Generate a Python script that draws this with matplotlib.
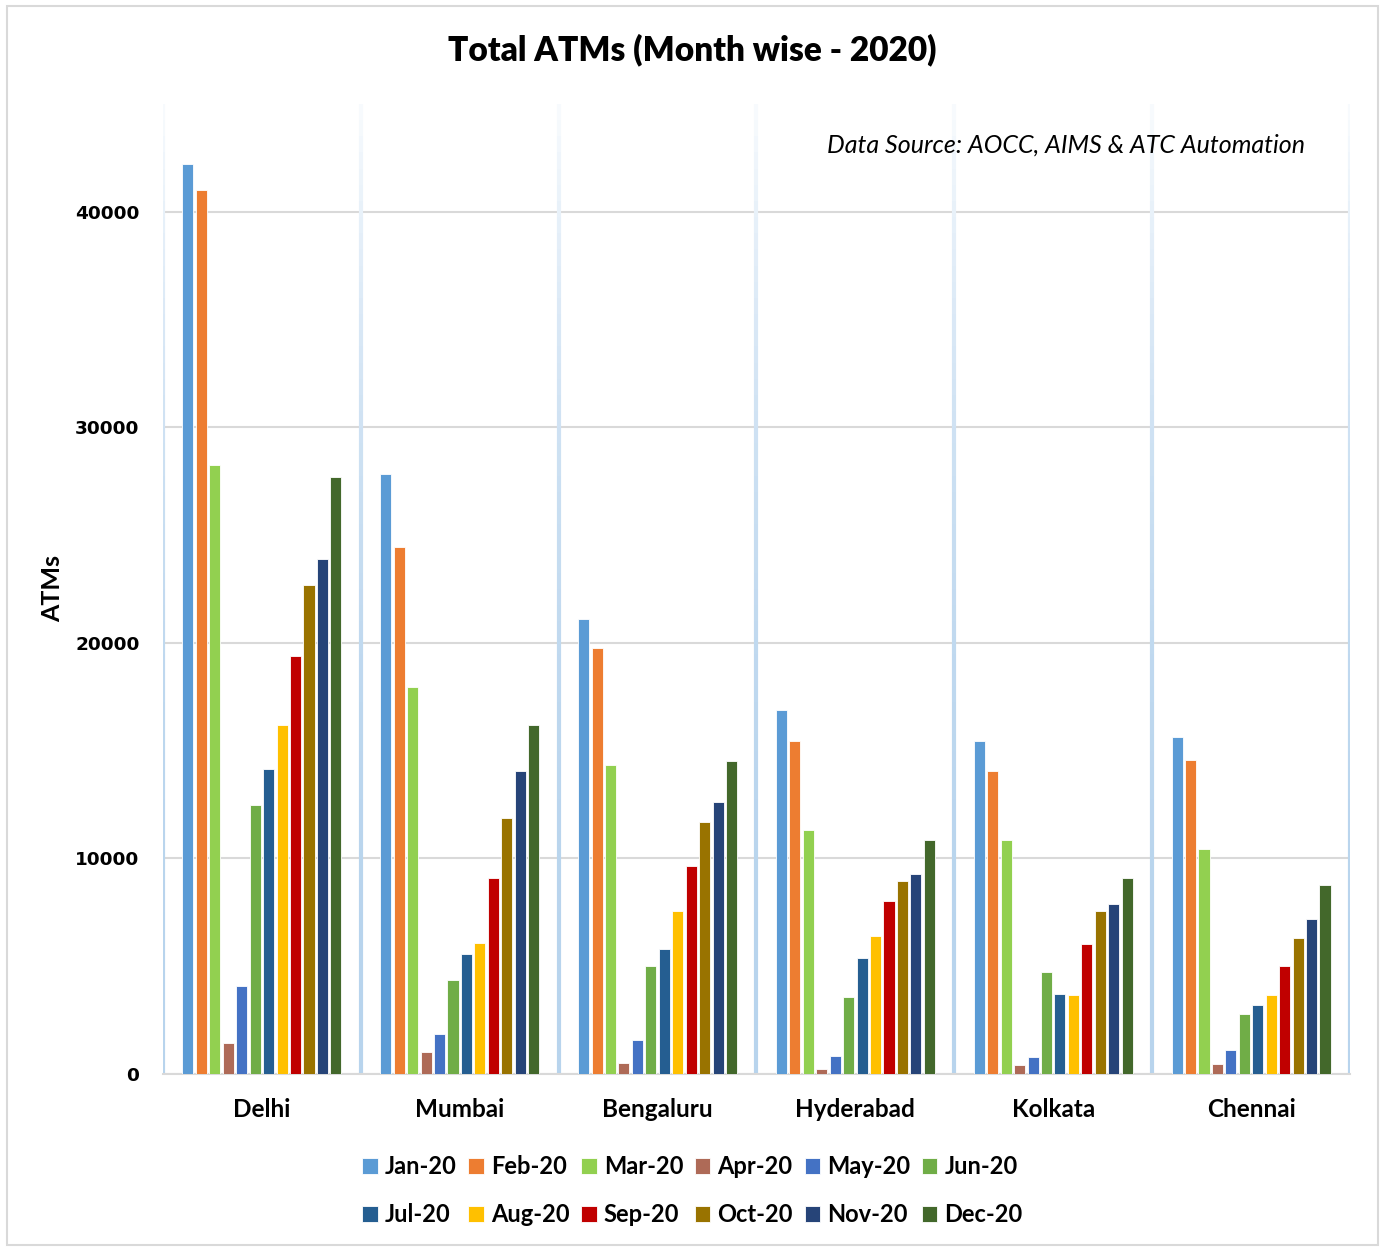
import numpy as np
import matplotlib
matplotlib.use("Agg")
import matplotlib.pyplot as plt
from matplotlib.collections import LineCollection
from matplotlib.colors import LinearSegmentedColormap
from matplotlib.patches import Rectangle

# data
cities = ["Delhi", "Mumbai", "Bengaluru", "Hyderabad", "Kolkata", "Chennai"]
months = ["Jan-20", "Feb-20", "Mar-20", "Apr-20", "May-20", "Jun-20",
          "Jul-20", "Aug-20", "Sep-20", "Oct-20", "Nov-20", "Dec-20"]

delhi = [42200, 41000, 28250, 1450, 4080, 12470, 14150, 16180, 19380, 22700, 23900, 27680]
mumbai = [27850, 24450, 17950, 1000, 1850, 4370, 5580, 6070, 9080, 11870, 14060, 16180]
bengaluru = [21100, 19750, 14320, 500, 1570, 5000, 5790, 7560, 9640, 11670, 12600, 14520]
hyderabad = [16900, 15470, 11330, 230, 850, 3580, 5380, 6400, 8030, 8950, 9280, 10850]
kolkata = [15470, 14060, 10850, 420, 790, 4710, 3710, 3660, 6040, 7560, 7910, 9080]
chennai = [15650, 14550, 10430, 460, 1130, 2780, 3200, 3660, 5000, 6320, 7180, 8760]

colors = ["#5B9BD5", "#ED7D31", "#92D050", "#AE6A57", "#4472C4", "#70AD47",
          "#255E91", "#FFC000", "#C00000", "#997300", "#264478", "#43682B"]

values = np.array([delhi, mumbai, bengaluru, hyderabad, kolkata, chennai])  # city x month

fig = plt.figure(figsize=(13.85, 12.47), dpi=100)
ax = fig.add_axes([0.1177, 0.1387, 0.857, 0.778])

x = np.arange(len(cities))
pitch = 0.068
width = 0.056
bars = []
for m in range(len(months)):
    off = (m - 5.5) * pitch
    b = ax.bar(x + off, values[:, m], width, color=colors[m], edgecolor="white",
               linewidth=0.6, zorder=3, label=months[m])
    bars.append(b)

ax.set_xlim(-0.5, 5.5)
ax.set_ylim(0, 45000)

# gradient separators between cities (blue at bottom, fading up)
cmap = LinearSegmentedColormap.from_list("sep", ["#B8D4ED", "#F7FAFD"])
n = 60
ys = np.linspace(0, 45000, n + 1)
for bx in np.arange(-0.5, 6, 1.0):
    segs = [[(bx, ys[i]), (bx, ys[i + 1])] for i in range(n)]
    lc = LineCollection(segs, colors=cmap(np.linspace(0, 1, n) ** 2.5), linewidths=3.0,
                        zorder=2, capstyle="butt")
    ax.add_collection(lc)

ax.set_yticks([0, 10000, 20000, 30000, 40000])
ax.yaxis.grid(True, color="#D9D9D9", linewidth=1.5, zorder=1)
ax.set_axisbelow(True)
for s in ["top", "right", "left"]:
    ax.spines[s].set_visible(False)
ax.spines["bottom"].set_color("#D9D9D9")
ax.spines["bottom"].set_linewidth(1.5)
ax.tick_params(axis="y", length=0, pad=17)
ax.tick_params(axis="x", length=0, pad=17)
for t in ax.get_yticklabels():
    t.set_fontfamily("DejaVu Sans")
    t.set_fontweight("bold")
    t.set_fontsize(13.3)
ax.set_xticks(x)
ax.set_xticklabels(cities, fontfamily="Lato", fontweight="bold", fontsize=17.5)

ax.set_ylabel("ATMs", fontfamily="Lato", fontweight="bold", fontsize=18, labelpad=8)

fig.text(0.5, 0.96, "Total ATMs (Month wise - 2020)", ha="center", va="center",
         fontfamily="Lato", fontweight="heavy", fontsize=24)
ax.text(0.962, 0.958, "Data Source: AOCC, AIMS & ATC Automation", transform=ax.transAxes,
        ha="right", va="center", fontfamily="Lato", style="italic", fontsize=18)

# legend in row order, 6 per row
order = []
for c in range(6):
    order += [c, c + 6]
handles = [bars[i] for i in order]
labels = [months[i] for i in order]
fig.legend(handles, labels, ncol=6, loc="center", bbox_to_anchor=(0.5, 0.045),
           frameon=False, prop={"family": "Lato", "weight": "bold", "size": 17},
           handlelength=0.65, handleheight=0.65, handletextpad=0.3,
           columnspacing=0.5, labelspacing=1.05)

# chart border
fig.patches.append(Rectangle((0.005, 0.002), 0.99, 0.993, transform=fig.transFigure,
                             fill=False, edgecolor="#D9D9D9", linewidth=1.5))

fig.savefig("out.png", dpi=100)
